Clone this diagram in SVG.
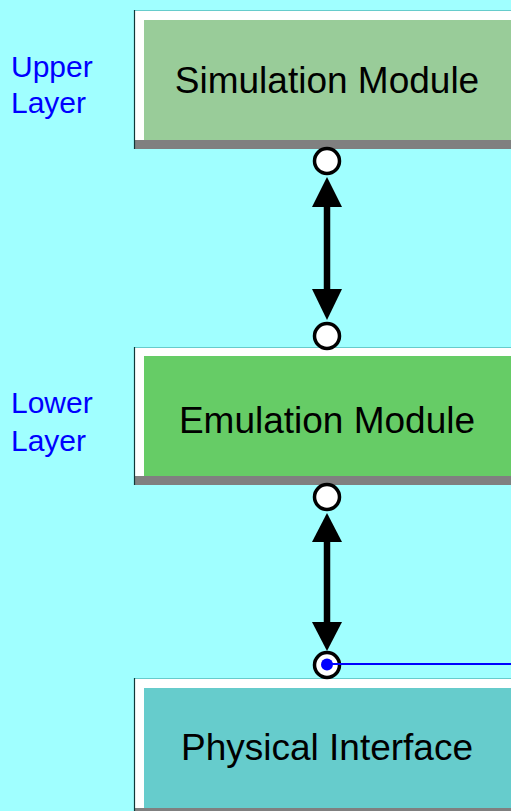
<svg xmlns="http://www.w3.org/2000/svg" width="511" height="811" viewBox="0 0 511 811">
  <style>
    .frame { fill: #ffffff; }
    .edge-top { stroke: #66cccc; stroke-width: 1; }
    .edge-left { stroke: #103838; stroke-width: 1.2; }
    .shadow { fill: #808080; }
    .title { font-family: "Liberation Sans", Arial, sans-serif; font-size: 37px; fill: #000000; text-anchor: middle; }
    .layer { font-family: "Liberation Sans", Arial, sans-serif; font-size: 30px; fill: #0000ff; }
    .port { fill: #ffffff; stroke: #000000; stroke-width: 3.5; }
    .shaft { stroke: #000000; stroke-width: 6.5; }
    .head { fill: #000000; }
  </style>

  <!-- background -->
  <rect x="0" y="0" width="511" height="811" fill="#a0ffff"/>

  <!-- layer captions -->
  <g id="label-upper">
    <text class="layer" x="11" y="77">Upper</text>
    <text class="layer" x="11" y="113">Layer</text>
  </g>
  <g id="label-lower">
    <text class="layer" x="11" y="413">Lower</text>
    <text class="layer" x="11" y="451">Layer</text>
  </g>

  <!-- Simulation Module -->
  <g id="simulation-module">
    <rect class="frame" x="134" y="10" width="390" height="130"/>
    <rect x="144" y="20" width="380" height="120" fill="#99cc99"/>
    <rect class="shadow" x="134" y="140" width="390" height="9"/>
    <line class="edge-top" x1="134" y1="10.5" x2="524" y2="10.5"/>
    <line class="edge-left" x1="134.5" y1="10" x2="134.5" y2="149"/>
    <text class="title" x="327" y="93">Simulation Module</text>
  </g>

  <!-- Emulation Module -->
  <g id="emulation-module">
    <rect class="frame" x="134" y="347" width="390" height="130"/>
    <rect x="144" y="356" width="380" height="120" fill="#66cc66"/>
    <rect class="shadow" x="134" y="476" width="390" height="9"/>
    <line class="edge-top" x1="134" y1="347.5" x2="524" y2="347.5"/>
    <line class="edge-left" x1="134.5" y1="347" x2="134.5" y2="485"/>
    <text class="title" x="327" y="433">Emulation Module</text>
  </g>

  <!-- Physical Interface -->
  <g id="physical-interface">
    <rect class="frame" x="134" y="678" width="390" height="133"/>
    <rect x="144" y="688" width="380" height="120" fill="#66cccc"/>
    <rect class="shadow" x="134" y="808" width="390" height="9"/>
    <line class="edge-top" x1="134" y1="678.5" x2="524" y2="678.5"/>
    <line class="edge-left" x1="134.5" y1="678" x2="134.5" y2="811"/>
    <text class="title" x="327" y="760">Physical Interface</text>
  </g>

  <!-- connectors -->
  <g id="connectors">
    <!-- simulation <-> emulation -->
    <line class="shaft" x1="327" y1="200" x2="327" y2="296"/>
    <polygon class="head" points="327,177 312,207 342,207"/>
    <polygon class="head" points="327,320 312,289 342,289"/>
    <circle class="port" cx="327" cy="161" r="12.5"/>
    <circle class="port" cx="327" cy="336" r="12.5"/>

    <!-- emulation <-> physical interface -->
    <line class="shaft" x1="327" y1="535" x2="327" y2="629"/>
    <polygon class="head" points="327,513 312,542 342,542"/>
    <polygon class="head" points="327,651 312,622 342,622"/>
    <circle class="port" cx="327" cy="497" r="12.5"/>
    <circle class="port" cx="327" cy="665" r="12.5"/>

    <!-- outgoing link from the interface port -->
    <line x1="327" y1="664" x2="511" y2="664" stroke="#0000ff" stroke-width="2"/>
    <circle cx="327" cy="664.5" r="6" fill="#0000ff"/>
  </g>
</svg>
